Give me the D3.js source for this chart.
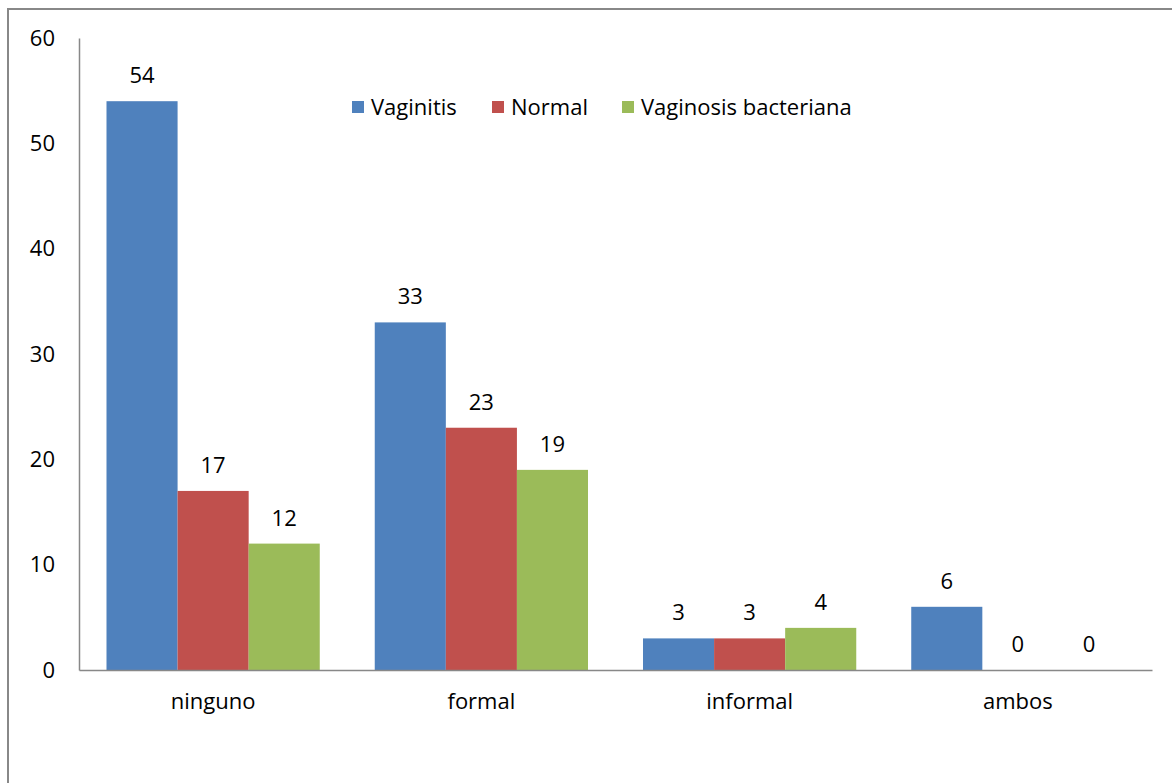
<!DOCTYPE html>
<html><head><meta charset="utf-8">
<script src="https://cdn.jsdelivr.net/npm/d3@7"></script>
<style>body{margin:0;background:#fff}svg{display:block}text{font-family:"Open Sans",sans-serif;fill:#000}</style>
</head><body><div id="c"></div>
<script>
const categories = ["ninguno","formal","informal","ambos"];
const seriesNames = ["Vaginitis","Normal","Vaginosis bacteriana"];
const vaginitis = [54,33,3,6];
const normal = [17,23,3,0];
const vaginosis = [12,19,4,0];
const yTicks = [0,10,20,30,40,50,60];
const colors = ["#4F81BD","#C0504D","#9BBB59"];
const seriesValues = [vaginitis, normal, vaginosis];

const W = 1172, H = 783;
const FS = 22;
const svg = d3.select("#c").append("svg").attr("width", W).attr("height", H);
// frame
svg.append("path").attr("d", `M8,${H} L8,9 L${W},9`).attr("fill","none").attr("stroke","#888").attr("stroke-width",2);

const m = {l:79, r:1152, t:38, b:670};
const x0 = d3.scaleBand().domain(categories).range([m.l, m.r]).paddingInner(0.205).paddingOuter(0.1025);
const x1 = d3.scaleBand().domain(seriesNames).range([0, x0.bandwidth()]);
const y = d3.scaleLinear().domain([0,60]).range([m.b, m.t]);

// axes
const yAxis = svg.append("g").attr("transform",`translate(${m.l},0)`).call(d3.axisLeft(y).tickValues(yTicks).tickSize(0).tickPadding(24));
yAxis.select(".domain").attr("stroke","#888").attr("stroke-width",1.5);
yAxis.selectAll("text").attr("font-size",FS).attr("font-family","'Open Sans',sans-serif").attr("fill","#000");

const groups = svg.append("g").selectAll("g").data(categories).join("g")
  .attr("transform", d => `translate(${x0(d)},0)`);
seriesNames.forEach((s, si) => {
  groups.append("rect")
    .attr("x", x1(s)).attr("width", x1.bandwidth())
    .attr("y", (d,i) => y(seriesValues[si][i]))
    .attr("height", (d,i) => y(0) - y(seriesValues[si][i]))
    .attr("fill", colors[si]);
  groups.append("text")
    .attr("x", x1(s) + x1.bandwidth()/2)
    .attr("y", (d,i) => y(seriesValues[si][i]) - 18)
    .attr("text-anchor","middle").attr("font-size",FS)
    .text((d,i) => seriesValues[si][i]);
});

const xAxis = svg.append("g").attr("transform",`translate(0,${m.b})`).call(d3.axisBottom(x0).tickSize(0).tickPadding(23).tickSizeOuter(0));
xAxis.select(".domain").attr("stroke","#888").attr("stroke-width",1.5);
xAxis.selectAll("text").attr("font-size",FS).attr("font-family","'Open Sans',sans-serif").attr("fill","#000");

// legend
const legX = [352, 492, 622];
const leg = svg.append("g");
seriesNames.forEach((s, i) => {
  leg.append("rect").attr("x", legX[i]).attr("y", 101).attr("width", 12).attr("height", 12).attr("fill", colors[i]);
  leg.append("text").attr("x", legX[i] + 19).attr("y", 115).attr("font-size",FS).text(s);
});
</script></body></html>
